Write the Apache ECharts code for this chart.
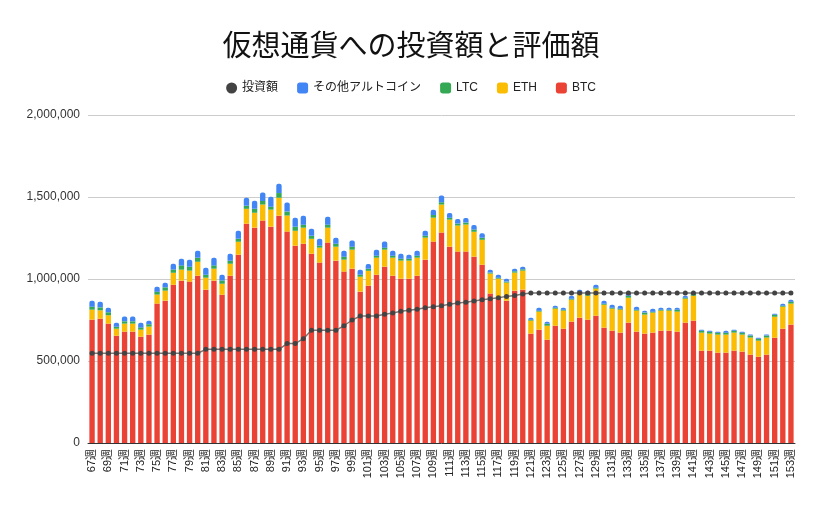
<!DOCTYPE html>
<html>
<head>
<meta charset="utf-8">
<script src="https://cdn.jsdelivr.net/npm/echarts@6/dist/echarts.min.js"></script>
<style>html,body{margin:0;padding:0;background:#fff}#c{width:822px;height:508px}</style>
</head>
<body>
<div id="c"></div>
<script>
const weeks = [];
for (let w = 67; w <= 153; w++) weeks.push(w + '週');

const btc = [752000,758000,728000,654000,679000,679000,648000,661000,850000,868000,965000,990000,984000,1020000,935000,990000,904000,1020000,1148000,1337000,1313000,1356000,1319000,1386000,1289000,1203000,1215000,1154000,1100000,1222000,1112000,1045000,1063000,923000,959000,1026000,1075000,1020000,1002000,1002000,1020000,1118000,1228000,1283000,1197000,1167000,1167000,1136000,1087000,911000,886000,868000,929000,935000,667000,691000,630000,715000,697000,740000,764000,752000,776000,703000,685000,673000,734000,679000,667000,673000,685000,685000,679000,734000,746000,563000,563000,551000,551000,563000,557000,539000,526000,539000,642000,697000,722000];
const eth = [61000,51000,51000,43000,49000,49000,43000,49000,55000,61000,73000,67000,67000,85000,73000,73000,67000,73000,79000,91000,91000,98000,104000,110000,98000,91000,98000,91000,91000,91000,85000,73000,116000,91000,91000,104000,104000,110000,110000,110000,110000,134000,146000,171000,165000,159000,165000,152000,152000,122000,116000,110000,110000,116000,79000,110000,85000,104000,110000,134000,146000,146000,165000,140000,134000,140000,152000,128000,116000,122000,122000,122000,122000,146000,152000,110000,104000,110000,110000,110000,104000,104000,98000,104000,128000,134000,128000];
const ltc = [18000,18000,18000,12000,14000,14000,14000,14000,18000,20000,20000,26000,24000,24000,18000,20000,20000,18000,18000,18000,24000,22000,18000,28000,24000,24000,18000,18000,12000,18000,18000,18000,18000,12000,12000,12000,12000,12000,12000,12000,12000,12000,16000,14000,12000,12000,12000,14000,12000,6000,6000,6000,8000,8000,6000,6000,12000,6000,6000,6000,6000,12000,6000,6000,6000,6000,12000,6000,12000,6000,6000,6000,12000,6000,12000,12000,12000,12000,12000,12000,12000,12000,12000,12000,12000,6000,12000];
const others = [37000,35000,28000,24000,30000,30000,28000,22000,30000,28000,35000,41000,43000,43000,43000,47000,35000,43000,49000,49000,49000,51000,61000,57000,55000,55000,55000,43000,43000,49000,37000,37000,37000,30000,30000,37000,37000,30000,30000,24000,30000,30000,33000,41000,28000,28000,28000,28000,28000,18000,18000,18000,16000,16000,12000,18000,12000,12000,12000,18000,18000,18000,18000,18000,18000,18000,18000,18000,12000,18000,12000,12000,12000,12000,8000,6000,6000,6000,12000,6000,6000,6000,6000,6000,6000,12000,12000];
const invest = [547000,547000,547000,547000,547000,547000,547000,547000,547000,547000,547000,547000,547000,547000,571000,571000,571000,571000,571000,571000,571000,571000,571000,571000,606000,606000,636000,687000,687000,687000,687000,715000,750000,774000,774000,774000,785000,793000,803000,809000,815000,825000,831000,837000,846000,854000,858000,866000,874000,880000,886000,894000,900000,909000,915000,915000,915000,915000,915000,915000,915000,915000,915000,915000,915000,915000,915000,915000,915000,915000,915000,915000,915000,915000,915000,915000,915000,915000,915000,915000,915000,915000,915000,915000,915000,915000,915000];
const yTicks = [0, 500000, 1000000, 1500000, 2000000];

const font = '"Liberation Sans", "Noto Sans CJK JP", sans-serif';
const chart = echarts.init(document.getElementById('c'));
const barBase = { type: 'bar', stack: 'v', barCategoryGap: '34%' };
chart.setOption({
  animation: false,
  title: { text: '仮想通貨への投資額と評価額', left: 'center', top: 25,
    textStyle: { fontFamily: '"Noto Sans CJK JP", sans-serif', fontSize: 29, fontWeight: 'normal', color: '#111' } },
  legend: {
    top: 77, left: 'center', itemWidth: 11, itemHeight: 11, itemGap: 19,
    textStyle: { fontFamily: font, fontSize: 12, color: '#222' },
    data: [
      { name: '投資額', icon: 'circle', itemStyle: { color: '#434343' } },
      { name: 'その他アルトコイン', icon: 'roundRect' },
      { name: 'LTC', icon: 'roundRect' },
      { name: 'ETH', icon: 'roundRect' },
      { name: 'BTC', icon: 'roundRect' }
    ]
  },
  grid: { left: 88, right: 27, top: 115, bottom: 65 },
  xAxis: {
    type: 'category', data: weeks,
    axisLine: { lineStyle: { color: '#333', width: 1 } },
    axisTick: { show: false },
    axisLabel: { interval: 1, rotate: 90, fontFamily: font, fontSize: 11, color: '#222', margin: 6 }
  },
  yAxis: {
    type: 'value', min: yTicks[0], max: yTicks[yTicks.length - 1], interval: 500000,
    axisLine: { show: false }, axisTick: { show: false },
    splitLine: { lineStyle: { color: '#cccccc' } },
    axisLabel: { fontFamily: font, fontSize: 12, color: '#333', margin: 8,
      formatter: v => v.toLocaleString('en-US') }
  },
  series: [
    Object.assign({}, barBase, { name: 'BTC', data: btc, itemStyle: { color: '#ea4335' } }),
    Object.assign({}, barBase, { name: 'ETH', data: eth, itemStyle: { color: '#fbbc04' } }),
    Object.assign({}, barBase, { name: 'LTC', data: ltc, itemStyle: { color: '#34a853' } }),
    Object.assign({}, barBase, { name: 'その他アルトコイン', data: others, itemStyle: { color: '#4285f4', borderRadius: [2, 2, 0, 0] } }),
    { name: '投資額', type: 'line', data: invest, z: 5, symbol: 'circle', symbolSize: 5,
      itemStyle: { color: '#434343' }, lineStyle: { color: '#555', width: 1.5, opacity: 0.8 } }
  ]
});
</script>
</body>
</html>
